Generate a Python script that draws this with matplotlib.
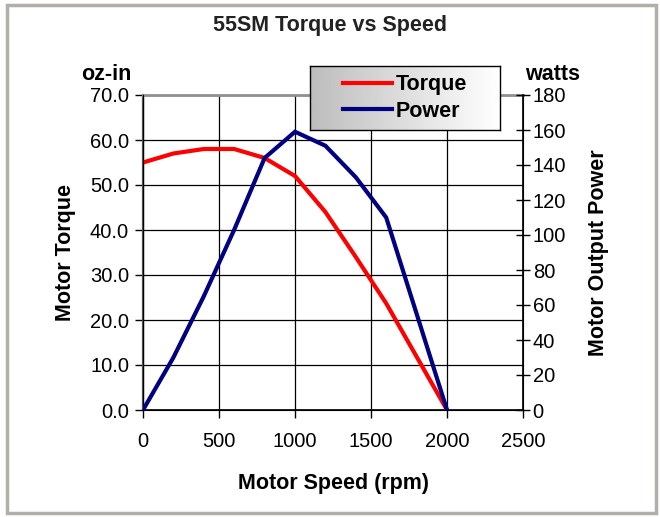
import matplotlib.pyplot as plt
import numpy as np
from matplotlib.patches import Rectangle
from matplotlib.lines import Line2D

plt.rcParams['font.family'] = ['Liberation Sans', 'DejaVu Sans']

# data
speed_rpm = [0, 200, 400, 600, 800, 1000, 1200, 1400, 1600, 2000]
torque_ozin = [55.0, 57.0, 58.0, 58.0, 56.0, 52.0, 44.0, 34.0, 23.7, 0.0]
power_watts = [0, 30, 65, 103, 144, 159, 151, 133, 110, 0]

x_ticks = [0, 500, 1000, 1500, 2000, 2500]
torque_ticks = np.arange(0, 71, 10)
power_ticks = np.arange(0, 181, 20)


def plot_chart():
    fig = plt.figure(figsize=(6.6, 5.17), dpi=100)

    # grey outer frame like the Excel chart area
    fig.patches.append(Rectangle((0.011, 0.008), 0.983, 0.982, transform=fig.transFigure,
                                 fill=False, edgecolor='#b2aea8', linewidth=2.5))

    ax = fig.add_axes([143 / 660, 1 - 410 / 517, 380 / 660, 315 / 517])
    ax.plot(speed_rpm, torque_ozin, color='#ff0000', lw=3, solid_joinstyle='miter', zorder=3)
    ax.set_xlim(0, 2500)
    ax.set_ylim(0, 70)
    ax.set_xticks(x_ticks)
    ax.set_yticks(torque_ticks)
    ax.set_yticklabels([f'{v:.1f}' for v in torque_ticks])
    ax.grid(True, color='black', lw=0.9)
    ax.set_axisbelow(True)
    ax.tick_params(axis='both', labelsize=14.5, length=6, width=1, direction='out', pad=4)
    ax.tick_params(axis='x', pad=10)
    ax.spines['top'].set_color('#909090')
    ax.spines['top'].set_linewidth(2)
    ax.spines['left'].set_color('#555555')
    ax.spines['left'].set_linewidth(1.6)
    ax.spines['bottom'].set_linewidth(1.2)
    ax.set_xlabel('Motor Speed (rpm)', fontsize=15.5, fontweight='bold', labelpad=16)
    ax.set_ylabel('Motor Torque', fontsize=15.5, fontweight='bold', labelpad=10)

    ax2 = ax.twinx()
    ax2.plot(speed_rpm, power_watts, color='#000080', lw=3, solid_joinstyle='miter', zorder=3)
    ax2.set_ylim(0, 180)
    ax2.set_yticks(power_ticks)
    ax2.tick_params(axis='y', labelsize=14.5, length=10, width=1, direction='inout', pad=2)
    ax2.spines['right'].set_linewidth(1.2)
    ax2.spines['top'].set_visible(False)
    ax2.set_ylabel('Motor Output Power', fontsize=15.5, fontweight='bold', labelpad=16)

    fig.text(0.5, 1 - 25 / 517, '55SM Torque vs Speed', ha='center', va='center',
             fontsize=15.5, fontweight='bold', color='#222222')
    fig.text(106 / 660, 1 - 74 / 517, 'oz-in', ha='center', va='center',
             fontsize=15.5, fontweight='bold')
    fig.text(553 / 660, 1 - 74 / 517, 'watts', ha='center', va='center',
             fontsize=15.5, fontweight='bold')

    # legend box with a grey-to-white gradient
    lax = fig.add_axes([310 / 660, 1 - 130 / 517, 190 / 660, 64 / 517], zorder=5)
    grad = np.linspace(0.74, 1.0, 256).reshape(1, -1)
    lax.imshow(grad, cmap='gray', vmin=0, vmax=1, aspect='auto', extent=[0, 1, 0, 1])
    lax.set_xlim(0, 1)
    lax.set_ylim(0, 1)
    lax.set_xticks([])
    lax.set_yticks([])
    for s in lax.spines.values():
        s.set_linewidth(1)
    handles = [Line2D([], [], color='#ff0000', lw=3), Line2D([], [], color='#000080', lw=3)]
    lax.legend(handles, ['Torque', 'Power'], loc='center', frameon=False,
               prop={'size': 15.5, 'weight': 'bold'}, handlelength=2.3,
               handletextpad=0.15, labelspacing=0.25, borderpad=0.2)

    fig.savefig('out.png', dpi=100)


if __name__ == '__main__':
    plot_chart()
